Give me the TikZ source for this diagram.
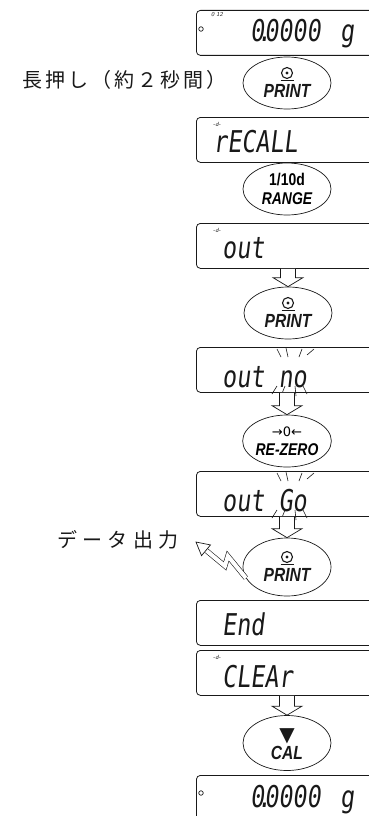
\documentclass[tikz,border=0pt]{standalone}
\usepackage{fontspec}
\usepackage{tikz}
\usetikzlibrary{positioning,shapes.geometric,calc}
\newfontfamily\jpfont[LetterSpace=15]{Noto Sans CJK JP}
\newfontfamily\jpwide[LetterSpace=27]{Noto Sans CJK JP}
\newfontfamily\lcdfont[FakeStretch=0.78,FakeSlant=0.12]{DejaVu Sans Mono}
\newfontfamily\keyfont[FakeStretch=0.82]{Liberation Sans}
\newfontfamily\symfont{DejaVu Sans}
\definecolor{inkLine}{RGB}{25,25,25}

% flashing marks round the last two digits of a display
\newcommand{\blinkmarks}[1]{%
  \foreach \a/\b/\c/\d in {81/2/85/10, 90/1/92/10, 106/2/103/10, 118/2/111/8,
                            81/39/76/47, 89/39/85/49, 99/39/100/49, 107/39/111/47}
    \draw[blink] ([shift={(\a,\b)}]#1) -- ([shift={(\c,\d)}]#1);}
% open arrow from a display down to a key
\newcommand{\hollowdown}[2]{%
  \draw[hollow] let \p1=(#1.south), \p2=(#2.north) in
    (\x2-7.5pt,\y1) -- (\x2-7.5pt,\y2+9pt) -- (\x2-15pt,\y2+9pt) -- (\x2,\y2)
    -- (\x2+15pt,\y2+9pt) -- (\x2+7.5pt,\y2+9pt) -- (\x2+7.5pt,\y1);}
% printer sign above the PRINT label
\newcommand{\printicon}[1]{%
  \draw[inkLine,line width=1.1pt] ([shift={(0,-10)}]#1) circle (5.5);
  \fill[inkLine] ([shift={(0,-10)}]#1) circle (1.6);
  \draw[inkLine,line width=1.3pt] ([shift={(-6.5,-2.5)}]#1) -- ++(13,0);}

\begin{document}
\begin{tikzpicture}[x=1pt,y=-1pt,
  disp/.style ={draw=inkLine,line width=0.8pt,rounded corners=4pt,minimum width=200pt,minimum height=45pt,anchor=north west,inner sep=0pt},
  key/.style  ={draw=inkLine,line width=0.7pt,ellipse,minimum width=88pt,minimum height=52pt,inner sep=0pt,align=center,
                font=\keyfont\bfseries\itshape\fontsize{17}{19}\selectfont},
  klab/.style ={inner sep=0pt,text=inkLine,font=\keyfont\bfseries\itshape\fontsize{19}{19}\selectfont},
  lcd/.style  ={anchor=base west,inner sep=0pt,text=inkLine,font=\lcdfont\fontsize{30}{30}\selectfont},
  tag/.style  ={inner sep=0pt,text=inkLine,font=\sffamily\itshape\fontsize{6}{6}\selectfont},
  jp/.style   ={anchor=west,inner sep=0pt,text=inkLine,font=\jpfont\fontsize{20}{20}\selectfont},
  lamp/.style ={draw=inkLine,circle,line width=0.7pt,inner sep=0pt,minimum size=4.5pt},
  hollow/.style={draw=inkLine,line width=0.7pt,fill=white,line join=miter},
  blink/.style={inkLine,line width=0.6pt}]
\useasboundingbox (0,0) rectangle (369,816);
\clip (0,0) rectangle (369,816);

% displays
\node[disp] (d1) at (196,10)  {};
\node[disp] (d2) at (196,117) {};
\node[disp] (d3) at (196,223) {};
\node[disp] (d4) at (196,347) {};
\node[disp] (d5) at (196,471) {};
\node[disp] (d6) at (196,600) {};
\node[disp] (d7) at (196,650) {};
\node[disp] (d8) at (196,775) {};

\node[lamp] (c1) at (201,29) {};
\node[tag]  (t1) at (217,15) {0 12};
\node[lcd]  (w1) at (250,42) {0\makebox[0pt]{.}0000};
\node[lcd]  (u1) at (340,42) {g};
\node[tag]  (t2) at (217,124) {-d-};
\node[lcd]  (w2) at (213,152) {rECALL};
\node[tag]  (t3) at (217,230) {-d-};
\node[lcd]  (w3) at (222,258) {out};
\node[lcd]  (w4) at (222,387) {out no};
\node[lcd]  (w5) at (222,511) {out Go};
\node[lcd]  (w6) at (222,635) {End};
\node[tag]  (t7) at (217,657) {-d-};
\node[lcd]  (w7) at (222,687) {CLEAr};
\node[lamp] (c8) at (201,793) {};
\node[lcd]  (w8) at (250,807) {0\makebox[0pt]{.}0000};
\node[lcd]  (u8) at (340,807) {g};

\blinkmarks{d4.north west}
\blinkmarks{d5.north west}

% keys
\node[key] (b1) at (287,83)  {};
\node[klab] (p1) at ([shift={(0,8)}]b1.center) {PRINT};
\printicon{b1.center}
\node[key] (b2) at (287,189) {{\upshape 1/10d}\\RANGE};
\node[key] (b3) at (288,313) {};
\node[klab] (p3) at ([shift={(0,8)}]b3.center) {PRINT};
\printicon{b3.center}
\node[key] (b4) at (287,441) {{\symfont\mdseries\upshape\fontsize{13}{13}\selectfont →0←}\\RE-ZERO};
\node[key,minimum height=58pt] (b5) at (287,567) {};
\node[klab] (p5) at ([shift={(0,8)}]b5.center) {PRINT};
\printicon{b5.center}
\node[key,minimum height=55pt] (b6) at (287,743) {};
\node[klab] (p6) at ([shift={(0,10)}]b6.center) {CAL};
\node[inner sep=0pt,text=inkLine,font=\symfont\fontsize{20}{20}\selectfont] (v6) at ([shift={(0,-7)}]b6.center) {▼};

\node[jp] (hold) at (22,80)  {長押し（約２秒間）};
\node[jp,font=\jpwide\fontsize{20}{20}\selectfont] (dout) at (57,540) {データ出力};

\hollowdown{d3}{b3}
\hollowdown{d4}{b4}
\hollowdown{d5}{b5}
\hollowdown{d7}{b6}

% output flash
\coordinate (z3) at (b5.195);
\coordinate (z2) at ($(z3)+(-18,-22)$);
\coordinate (z1) at ($(z2)+(-3,10)$);
\coordinate (z0) at (196,542);
\coordinate (zb) at ($(z0)!13pt!(z1)$);
\draw[inkLine,line width=0.6pt,double=white,double distance=4pt,line join=miter] (z3) -- (z2) -- (z1) -- (zb);
\draw[hollow] (z0) -- ($(zb)!7pt!90:(z0)$) -- ($(zb)!7pt!-90:(z0)$) -- cycle;
\end{tikzpicture}
\end{document}
